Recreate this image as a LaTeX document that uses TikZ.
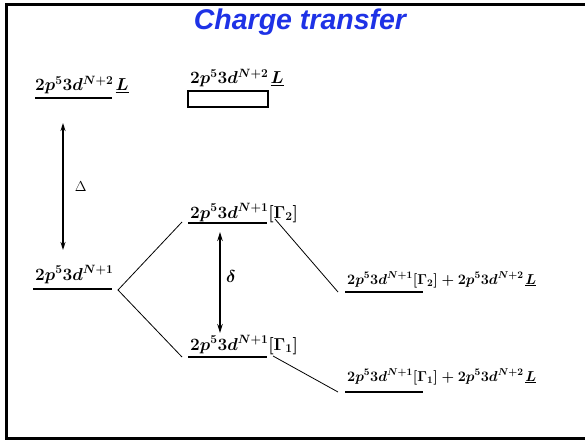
\documentclass[tikz,border=0pt]{standalone}
\usepackage{fontspec}
\newfontfamily\titlefont{Liberation Sans}
\usepackage{xcolor}
\usepackage{tikz}
\usetikzlibrary{arrows.meta}
\definecolor{titleblue}{RGB}{30,50,230}

\begin{document}
\begin{tikzpicture}[x=1pt,y=-1pt,
  lbl/.style={anchor=base west,inner sep=0pt,font=\fontsize{16.8}{19}\selectfont\boldmath},
  sumlbl/.style={lbl,font=\fontsize{14.4}{17}\selectfont\boldmath},
  lvl/.style={line width=1.1pt},
  link/.style={line width=0.8pt}]
\useasboundingbox (0,0) rectangle (585,441);
\draw[line width=3pt] (592,4.5) -- (6.5,4.5) -- (6.5,438.5) -- (592,438.5);
\node[anchor=base,font=\titlefont\bfseries\itshape\fontsize{28.5}{31}\selectfont,text=titleblue] (title) at (300,30) {Charge transfer};
% charge transfer state
\node[lbl] (ctl) at (35,91) {$2p^5 3d^{N+2}\mkern2mu\underline{L}$};
\draw[lvl] (35,98) coordinate (ctla) -- (112,98) coordinate (ctlb);
\node[lbl] (ctc) at (190,84) {$2p^5 3d^{N+2}\mkern2mu\underline{L}$};
\draw[lvl] (188,91) rectangle (268,107);
% ionic state
\node[lbl] (ion) at (35,280) {$2p^5 3d^{N+1}$};
\draw[lvl] (33,289) -- (112,289) coordinate (ionb);
\coordinate (split) at (118,290);
\draw[{Stealth[length=8pt,width=5pt]}-{Stealth[length=8pt,width=5pt]},line width=1.3pt] (63,123) -- (63,250) node[midway,right=8pt,font=\fontsize{14}{16}\selectfont] {$\Delta$};
% crystal field split
\node[lbl] (gtwo) at (190,218) {$2p^5 3d^{N+1}[\Gamma_2]$};
\draw[lvl] (188,223) coordinate (gtwoa) -- (267,223) coordinate (gtwob);
\node[lbl] (gone) at (190,350) {$2p^5 3d^{N+1}[\Gamma_1]$};
\draw[lvl] (188,357) coordinate (gonea) -- (267,357) coordinate (goneb);
\draw[{Stealth[length=9pt,width=5.5pt]}-{Stealth[length=9pt,width=5.5pt]},line width=2pt] (220,232) coordinate (dtop) -- (220,333) coordinate (dbot);
\node[font=\fontsize{18}{20}\selectfont\boldmath] (delta) at (231,276) {$\delta$};
% mixed states
\node[sumlbl] (mtwo) at (347,284) {$2p^5 3d^{N+1}[\Gamma_2] + 2p^5 3d^{N+2}\mkern2mu\underline{L}$};
\draw[lvl] (345,292) coordinate (mtwoa) -- (423,292);
\node[sumlbl] (mone) at (347,381) {$2p^5 3d^{N+1}[\Gamma_1] + 2p^5 3d^{N+2}\mkern2mu\underline{L}$};
\draw[lvl] (345,392) coordinate (monea) -- (423,392);
\draw[link] ([xshift=-6pt,yshift=1pt]gtwoa) -- (split) -- ([xshift=-6pt]gonea);
\draw[link] ([xshift=8pt,yshift=4pt]gtwob) -- ([xshift=-7pt]mtwoa);
\draw[link] ([xshift=6pt,yshift=1pt]goneb) -- ([xshift=-7pt]monea);
\end{tikzpicture}
\end{document}
